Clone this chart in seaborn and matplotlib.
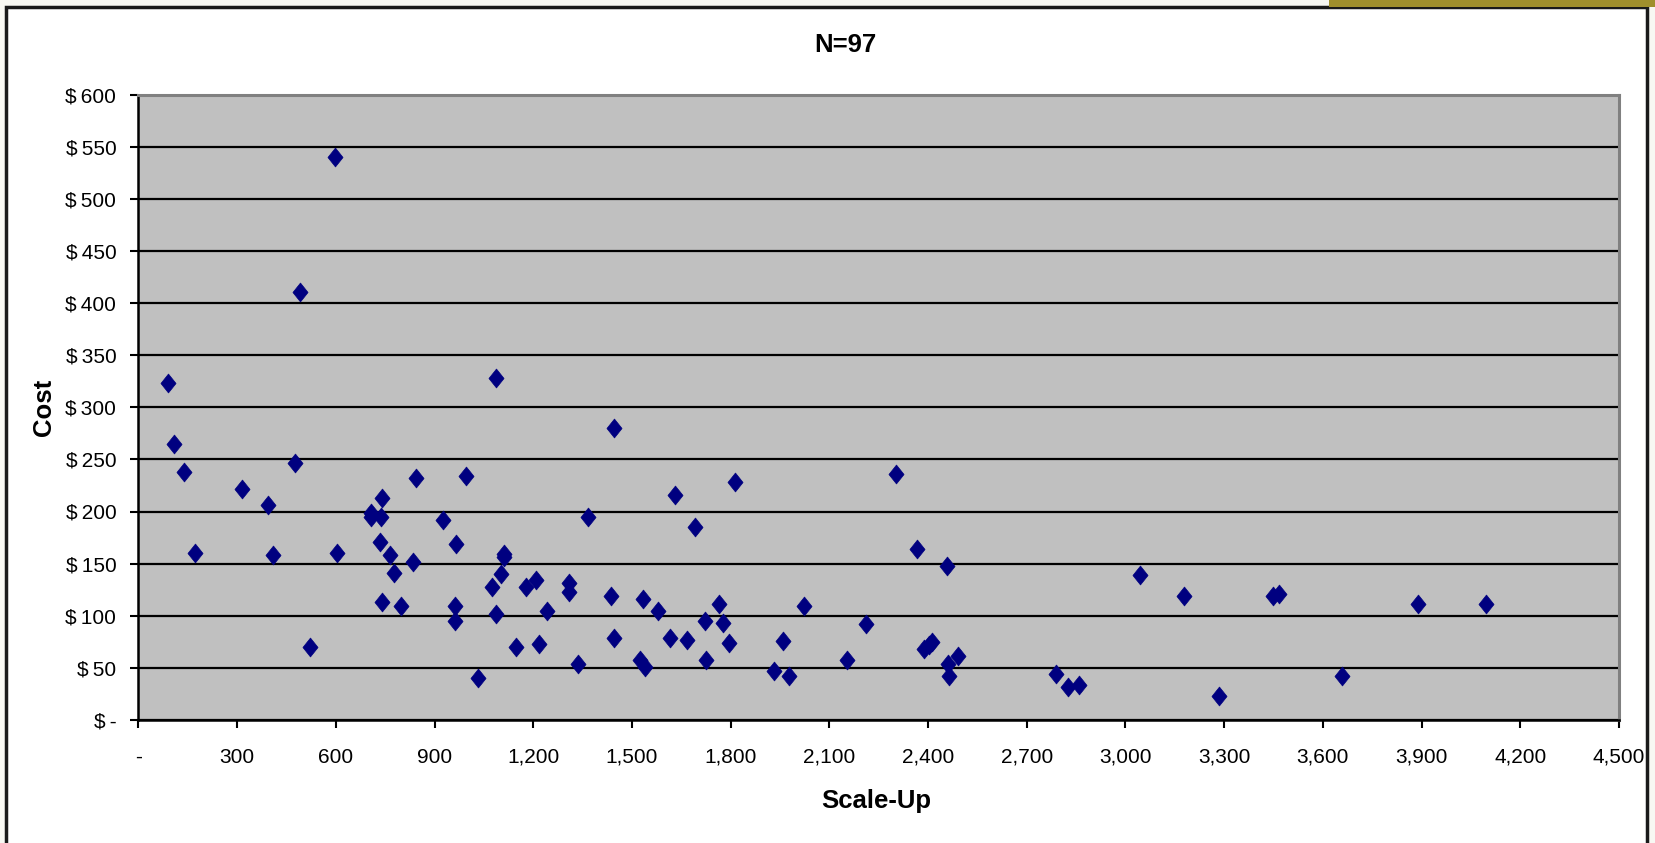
import matplotlib
matplotlib.use("Agg")
import matplotlib.pyplot as plt
import matplotlib.patches as patches
from matplotlib.path import Path
from matplotlib.markers import MarkerStyle
from matplotlib import font_manager
import seaborn as sns
import pandas as pd

# values (Scale-Up vs Cost)
scale_up = [90, 109, 138, 173, 314, 394, 410, 475, 491, 520,
            597, 603, 706, 706, 741, 738, 734, 741, 763, 776,
            799, 834, 843, 927, 965, 962, 962, 994, 1033, 1074,
            1087, 1087, 1103, 1110, 1110, 1148, 1177, 1209, 1216, 1241,
            1309, 1309, 1337, 1366, 1437, 1446, 1446, 1523, 1533, 1539,
            1578, 1616, 1632, 1668, 1690, 1722, 1726, 1764, 1777, 1796,
            1812, 1931, 1960, 1976, 2024, 2152, 2210, 2303, 2367, 2389,
            2402, 2412, 2457, 2460, 2463, 2492, 2790, 2826, 2858, 3044,
            3178, 3284, 3448, 3467, 3659, 3890, 4096]
cost = [323, 265, 238, 160, 222, 206, 158, 247, 411, 70,
        540, 160, 199, 195, 213, 195, 171, 113, 158, 141,
        109, 152, 232, 192, 169, 109, 95, 234, 40, 128,
        328, 102, 140, 159, 156, 70, 128, 134, 73, 105,
        131, 123, 54, 195, 119, 280, 79, 58, 116, 51,
        105, 79, 216, 77, 185, 95, 58, 111, 93, 74,
        228, 47, 76, 42, 109, 58, 92, 236, 164, 68,
        72, 75, 148, 54, 42, 61, 44, 32, 34, 139,
        119, 23, 119, 121, 42, 111, 111]

x_ticks = list(range(0, 4501, 300))
y_ticks = list(range(0, 601, 50))

df = pd.DataFrame({"Scale-Up": scale_up, "Cost": cost})

# a condensed face if one is installed, otherwise plain Liberation Sans
installed = {f.name for f in font_manager.fontManager.ttflist}
narrow = [n for n in ["Liberation Sans Narrow", "Arial Narrow", "Noto Sans Condensed"] if n in installed]
narrow = narrow + ["Liberation Sans", "DejaVu Sans"]
tick_size = 15.5 if narrow[0] != "Liberation Sans" else 15

fig = plt.figure(figsize=(16.56, 8.43), dpi=100, facecolor="#f8f8f3")

# white chart frame with black border and gold strip at top right
fig.patches.append(patches.Rectangle((6 / 1656, -0.05), (1647 - 6) / 1656, 1.05 - 7 / 843,
                                     transform=fig.transFigure, facecolor="white",
                                     edgecolor="#1a1a1a", linewidth=2.5, zorder=-2))
fig.patches.append(patches.Rectangle((1329 / 1656, 1 - 7 / 843), (1656 - 1329) / 1656, 7 / 843,
                                     transform=fig.transFigure, facecolor="#a08f2c",
                                     edgecolor="none", zorder=-1))

ax = fig.add_axes([138.5 / 1656, 1 - 720 / 843, (1619 - 138.5) / 1656, (720 - 94.5) / 843])
ax.set_facecolor("#c0c0c0")

diamond = Path([(0, 1), (0.8, 0), (0, -1), (-0.8, 0), (0, 1)],
               [Path.MOVETO, Path.LINETO, Path.LINETO, Path.LINETO, Path.CLOSEPOLY])
sns.scatterplot(data=df, x="Scale-Up", y="Cost", ax=ax, marker=MarkerStyle(diamond),
                s=185, color="#000080", edgecolor="#000080", linewidth=0.5, zorder=3)

ax.set_xlim(0, 4500)
ax.set_ylim(0, 600)

ax.set_xticks(x_ticks)
ax.set_xticklabels(["-" if v == 0 else f"{v:,}" for v in x_ticks], family=narrow, fontsize=tick_size)
ax.set_yticks(y_ticks)
ax.set_yticklabels(["$\u2009-" if v == 0 else f"$\u2009{v}" for v in y_ticks], family=narrow,
                   fontsize=tick_size)
ax.tick_params(axis="both", direction="out", length=6, width=1.5, color="black")
ax.tick_params(axis="x", pad=14)
ax.tick_params(axis="y", pad=10)

ax.yaxis.grid(True, color="black", linewidth=1.6)
ax.xaxis.grid(False)
ax.set_axisbelow(True)

for side in ["left", "bottom"]:
    ax.spines[side].set_color("black")
    ax.spines[side].set_linewidth(1.8)
for side in ["top", "right"]:
    ax.spines[side].set_color("#808080")
    ax.spines[side].set_linewidth(2.2)

bold = dict(family=["Liberation Sans", "DejaVu Sans"], fontweight="bold", fontsize=18.5)
ax.set_xlabel("Scale-Up", va="center", **bold)
ax.set_ylabel("Cost", va="center", **bold)
ax.xaxis.set_label_coords(0.498, -0.13)
ax.yaxis.set_label_coords(-0.064, 0.5)

fig.text(845 / 1656, 1 - 45 / 843, "N=97", ha="center", va="center", **bold)

fig.savefig("out.png", dpi=100, facecolor=fig.get_facecolor())
